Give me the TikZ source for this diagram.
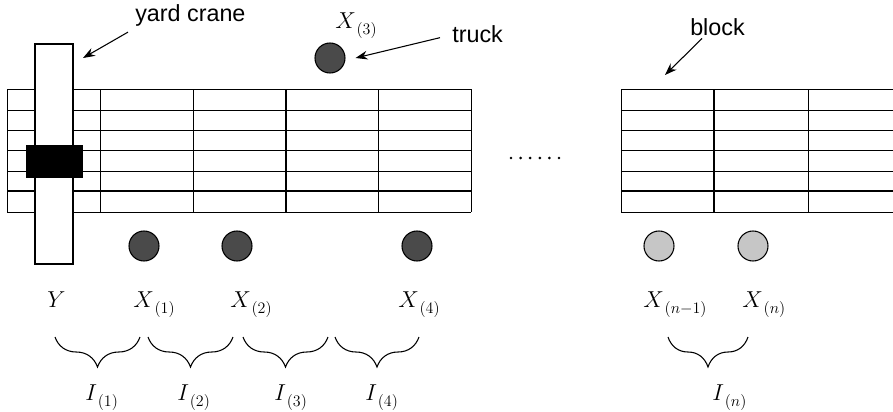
\documentclass[tikz,border=0pt]{standalone}
\usepackage{fontspec}
\setmainfont{Liberation Sans}
\usepackage{tikz}
\usetikzlibrary{arrows.meta, decorations.pathreplacing}
\definecolor{truckdark}{HTML}{4A4A4A}
\definecolor{trucklight}{HTML}{C6C6C6}
\newcommand{\ordidx}[1]{_{\,\lower2.5pt\hbox{$\scriptstyle(#1)$}}}

\begin{document}
\begin{tikzpicture}[
    x=0.75pt, y=-0.75pt,
    gridline/.style={draw=black, line width=0.7pt},
    gridthick/.style={draw=black, line width=1.4pt},
    truckdark/.style={circle, draw=black, line width=0.8pt, fill=truckdark, minimum size=22.5pt, inner sep=0pt},
    trucklight/.style={circle, draw=black, line width=0.8pt, fill=trucklight, minimum size=22.5pt, inner sep=0pt},
    namelabel/.style={font=\fontsize{17.5}{20}\selectfont, anchor=base west, inner sep=0pt},
    varlabel/.style={font=\fontsize{16.5}{19}\selectfont, anchor=base west, inner sep=0pt},
    interval/.style={decorate, decoration={brace, amplitude=22.5pt, mirror}, line width=0.8pt},
    arr/.style={-{Stealth[length=9pt, width=6.5pt]}, line width=0.8pt},
]
\useasboundingbox (0,0) rectangle (893,411);
% left block: 6 rows x 5 bays
\foreach \r in {89,110,130,150,171,212} {
    \draw[gridline] (7,\r) -- (471,\r);
}
\draw[gridthick] (7,191) -- (471,191);
\foreach \c in {7,100,193,378,471} {
    \draw[gridline] (\c,89) -- (\c,212);
}
\draw[gridthick] (286,89) -- (286,212);
% yard crane with trolley
\draw[line width=0.8pt, fill=white] (35,44) rectangle (73,264);
\fill[black] (26,145) rectangle (83,178);
% gap between blocks
\foreach \i in {0,...,5} {
    \fill (511+\i*9.6,158) circle (1.1pt);
}
% right block
\foreach \r in {89,110,130,150,171,212} {
    \draw[gridline] (621,\r) -- (893,\r);
}
\draw[gridthick] (621,191) -- (893,191);
\foreach \c in {621,808} {
    \draw[gridline] (\c,89) -- (\c,212);
}
\draw[gridthick] (714,89) -- (714,212);
% trucks
\node[truckdark] (trk3) at (330,58) {};
\node[truckdark] (trk1) at (144,246) {};
\node[truckdark] (trk2) at (237,246) {};
\node[truckdark] (trk4) at (417,246) {};
\node[trucklight] (trkm) at (659,246) {};
\node[trucklight] (trkn) at (753,246) {};
% callouts
\node[namelabel] (lblcrane) at (135,21) {yard crane};
\node[namelabel] (lbltruck) at (452,42) {truck};
\node[namelabel] (lblblock) at (690,35) {block};
\coordinate (craneptr) at (83,58);
\coordinate (blockptr) at (665,75);
\draw[arr] ([shift={(-7,6)}]lblcrane.south west) -- (craneptr);
\draw[arr] ([shift={(-12,4)}]lbltruck.west) -- ([xshift=7.5pt]trk3.east);
\draw[arr] ([shift={(12,3)}]lblblock.south west) -- (blockptr);
% positions
\node[varlabel] (lblx3) at (335,28) {$X\ordidx{3}$};
\node[varlabel] (lbly) at (47,307) {$Y$};
\node[varlabel] (lblx1) at (133,307) {$X\ordidx{1}$};
\node[varlabel] (lblx2) at (230,307) {$X\ordidx{2}$};
\node[varlabel] (lblx4) at (398,307) {$X\ordidx{4}$};
\node[varlabel] (lblxm) at (643,307) {$X\ordidx{n-1}$};
\node[varlabel] (lblxn) at (742,307) {$X\ordidx{n}$};
% intervals
\draw[interval] (55,337) -- (140,337);
\draw[interval] (148,337) -- (233,337);
\draw[interval] (243,337) -- (328,337);
\draw[interval] (335,337) -- (419,337);
\draw[interval] (668,337) -- (748,337);
\node[varlabel] (lbli1) at (85,400) {$I\ordidx{1}$};
\node[varlabel] (lbli2) at (177,400) {$I\ordidx{2}$};
\node[varlabel] (lbli3) at (274,400) {$I\ordidx{3}$};
\node[varlabel] (lbli4) at (365,400) {$I\ordidx{4}$};
\node[varlabel] (lblin) at (712,400) {$I\ordidx{n}$};
\end{tikzpicture}
\end{document}
